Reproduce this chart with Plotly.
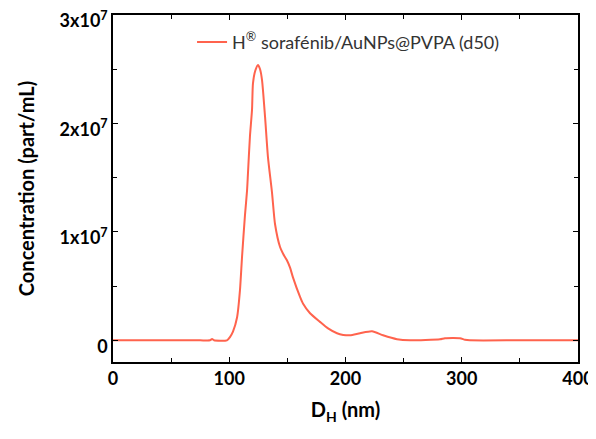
import plotly.graph_objects as go

# Hydrodynamic diameter (nm) and concentration (part/mL, x1e7)
diameter_nm = [0, 50, 75, 83.4, 85.2, 86.9, 98, 100.6, 103.2, 106.7, 109.2, 111.0, 113.5,
               115.3, 116.1, 117.8, 119.6, 120.4, 122.5, 124.7, 126.5, 128.2, 130.8, 133.3,
               136.8, 139.4, 143.7, 146.2, 149.5, 152.3, 154.8, 160.9, 163.4, 169.5, 178.1,
               185.0, 192.7, 198.0, 203.9, 212.5, 222.8, 232.3, 244.3, 255.5, 281.3, 285.6,
               298.5, 302.8, 307.0, 350, 400]
conc_e7 = [0, 0, 0, 0, 0.012, 0, 0, 0.03, 0.08, 0.21, 0.46, 0.77, 1.15,
           1.38, 1.54, 1.88, 2.13, 2.37, 2.49, 2.54, 2.50, 2.40, 2.06, 1.69,
           1.36, 1.07, 0.86, 0.80, 0.74, 0.67, 0.58, 0.40, 0.34, 0.25, 0.17,
           0.11, 0.065, 0.05, 0.046, 0.065, 0.083, 0.046, 0.01, 0, 0.01, 0.02,
           0.02, 0.005, 0, 0, 0]
conc = [v * 1e7 for v in conc_e7]

y_tickvals = [0, 1e7, 2e7, 3e7]
y_ticktext = ["0", "1x10<sup>7</sup>", "2x10<sup>7</sup>", "3x10<sup>7</sup>"]
x_tickvals = [0, 100, 200, 300, 400]
series_name = "H<sup>®</sup> sorafénib/AuNPs@PVPA (d50)"

fig = go.Figure()
fig.add_trace(go.Scatter(
    x=diameter_nm, y=conc, mode="lines", name=series_name,
    line=dict(color="rgb(255,99,77)", width=2, shape="spline", smoothing=0.6),
))

axis_common = dict(
    showline=True, linecolor="black", linewidth=1.5, mirror="ticks",
    ticks="inside", ticklen=5, tickwidth=1, tickcolor="black",
    showgrid=False, zeroline=False, automargin=False,
    ticklabeloverflow="allow",
    tickfont=dict(family="Lato", size=18, color="black", weight="bold"),
)

fig.update_layout(
    width=596, height=439,
    margin=dict(l=105, r=26, t=7, b=85),
    paper_bgcolor="white", plot_bgcolor="white",
    showlegend=True,
    legend=dict(x=0.17, y=0.975, xanchor="left", yanchor="top",
                bgcolor="rgba(0,0,0,0)",
                font=dict(family="Lato", size=18, color="#333333")),
    xaxis=dict(range=[0, 400], tickvals=x_tickvals,
               minor=dict(dtick=50, ticks="inside", ticklen=4, tickcolor="black"),
               title=dict(text="D<sub>H</sub> (nm)", standoff=15,
                          font=dict(family="Lato", size=20, color="black", weight="bold")),
               **axis_common),
    yaxis=dict(range=[-0.2e7, 3e7], tickvals=y_tickvals, ticktext=y_ticktext,
               ticklabelshift=6,
               minor=dict(tickvals=[0.5e7, 1.5e7, 2.5e7], ticks="inside", ticklen=4, tickcolor="black"),
               title=dict(text="Concentration (part/mL)", standoff=20,
                          font=dict(family="Lato", size=20, color="black", weight="bold")),
               **axis_common),
)

fig.write_html("out.html")
